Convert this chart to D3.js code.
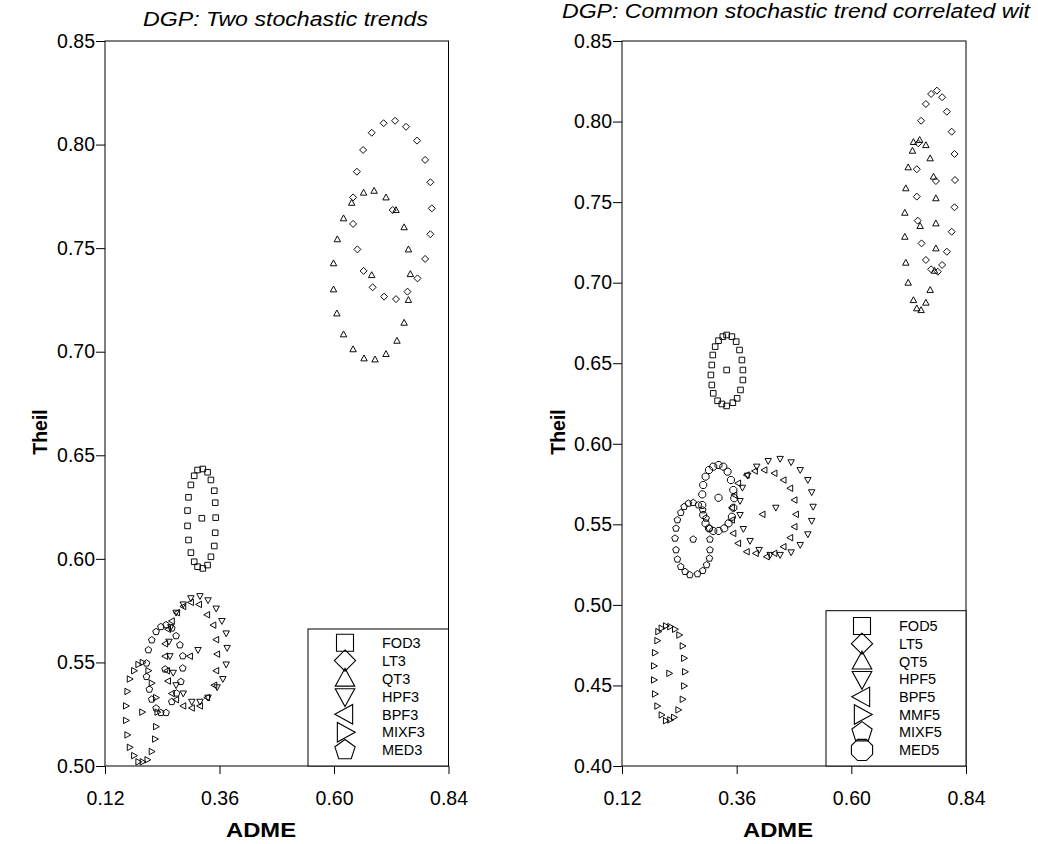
<!DOCTYPE html>
<html><head><meta charset="utf-8">
<script src="https://cdn.jsdelivr.net/npm/d3@7"></script>
<style>
body{margin:0;background:#fff;}
svg{display:block;font-family:"Liberation Sans",Arial,sans-serif;}
</style>
</head><body>
<svg id="c" width="1038" height="844"></svg>
<script>
// ---------- data ----------
const xTicks = [0.12, 0.36, 0.60, 0.84];
const yTicksLeft = [0.50, 0.55, 0.60, 0.65, 0.70, 0.75, 0.80, 0.85];
const yTicksRight = [0.40, 0.45, 0.50, 0.55, 0.60, 0.65, 0.70, 0.75, 0.80, 0.85];
const titleLeft = "DGP: Two stochastic trends";
const titleRight = "DGP: Common stochastic trend correlated wit";
const xTitle = "ADME";
const yTitle = "Theil";

const seriesLeft = ["FOD3","LT3","QT3","HPF3","BPF3","MIXF3","MED3"];
const seriesRight = ["FOD5","LT5","QT5","HPF5","BPF5","MMF5","MIXF5","MED5"];

// [ADME, Theil] pairs (ring points, last = centre)
const fod3 = [[0.325,0.6434],[0.314,0.6429],[0.335,0.6418],[0.307,0.6401],[0.342,0.6381],[0.300,0.6357],[0.349,0.6329],[0.295,0.6297],[0.351,0.6271],[0.293,0.6233],[0.352,0.6199],[0.293,0.6159],[0.351,0.6126],[0.295,0.6091],[0.349,0.6062],[0.300,0.6030],[0.342,0.6010],[0.307,0.5986],[0.335,0.5970],[0.314,0.5962],[0.325,0.5954],[0.323,0.6196]];
const lt3 = [[0.728,0.8115],[0.704,0.8103],[0.751,0.8086],[0.679,0.8057],[0.774,0.8019],[0.661,0.7974],[0.791,0.7926],[0.648,0.7869],[0.802,0.7818],[0.640,0.7745],[0.805,0.7692],[0.640,0.7617],[0.802,0.7567],[0.649,0.7494],[0.791,0.7448],[0.662,0.7390],[0.775,0.7354],[0.681,0.7311],[0.754,0.7290],[0.705,0.7266],[0.730,0.7254],[0.723,0.7684]];
const qt3 = [[0.662,0.7768],[0.684,0.7777],[0.709,0.7745],[0.637,0.7719],[0.730,0.7684],[0.620,0.7644],[0.747,0.7601],[0.607,0.7543],[0.756,0.7494],[0.599,0.7427],[0.760,0.7375],[0.599,0.7301],[0.756,0.7250],[0.606,0.7185],[0.747,0.7140],[0.620,0.7084],[0.732,0.7053],[0.640,0.7012],[0.663,0.6968],[0.686,0.6963],[0.709,0.6989],[0.679,0.7370]];
const hpf3 = [[0.284,0.578],[0.300,0.581],[0.319,0.582],[0.336,0.580],[0.353,0.576],[0.365,0.570],[0.374,0.564],[0.376,0.557],[0.374,0.549],[0.367,0.542],[0.355,0.538],[0.336,0.533],[0.319,0.531],[0.302,0.531],[0.284,0.535],[0.269,0.539],[0.263,0.545],[0.256,0.553],[0.254,0.560],[0.258,0.567],[0.269,0.574],[0.315,0.556]];
const bpf3 = [[0.317,0.578],[0.334,0.573],[0.347,0.568],[0.353,0.561],[0.355,0.554],[0.353,0.546],[0.349,0.539],[0.334,0.533],[0.319,0.529],[0.302,0.528],[0.284,0.529],[0.269,0.532],[0.260,0.535],[0.252,0.541],[0.250,0.546],[0.246,0.553],[0.246,0.559],[0.252,0.566],[0.260,0.570],[0.271,0.574],[0.284,0.577],[0.300,0.579],[0.298,0.553]];
const mixf3 = [[0.199,0.550],[0.190,0.549],[0.181,0.546],[0.172,0.542],[0.167,0.536],[0.164,0.529],[0.164,0.522],[0.167,0.515],[0.172,0.509],[0.181,0.505],[0.190,0.502],[0.199,0.502],[0.209,0.503],[0.218,0.507],[0.225,0.513],[0.227,0.519],[0.230,0.526],[0.227,0.533],[0.218,0.540],[0.211,0.546],[0.198,0.526]];
const med3 = [[0.237,0.5672],[0.248,0.5681],[0.260,0.5665],[0.269,0.5628],[0.277,0.5584],[0.283,0.5531],[0.283,0.5472],[0.279,0.5407],[0.270,0.5351],[0.260,0.5310],[0.248,0.5257],[0.237,0.5257],[0.227,0.5279],[0.218,0.5322],[0.213,0.5370],[0.207,0.5431],[0.207,0.5496],[0.211,0.5560],[0.218,0.5608],[0.227,0.5648],[0.246,0.5467]];

const fod5 = [[0.339,0.6675],[0.331,0.6665],[0.350,0.6665],[0.322,0.6640],[0.359,0.6634],[0.315,0.6603],[0.366,0.6582],[0.310,0.6551],[0.371,0.6520],[0.308,0.6489],[0.373,0.6458],[0.306,0.6427],[0.373,0.6396],[0.308,0.6365],[0.368,0.6334],[0.311,0.6313],[0.361,0.6282],[0.320,0.6267],[0.352,0.6255],[0.329,0.6247],[0.339,0.6235],[0.339,0.6458]];
const lt5 = [[0.779,0.8192],[0.767,0.8171],[0.790,0.8151],[0.756,0.8109],[0.800,0.8061],[0.746,0.8005],[0.810,0.7937],[0.740,0.7865],[0.816,0.7799],[0.737,0.7704],[0.817,0.7637],[0.737,0.7534],[0.816,0.7468],[0.739,0.7385],[0.810,0.7316],[0.747,0.7244],[0.800,0.7192],[0.756,0.7141],[0.790,0.7110],[0.767,0.7083],[0.781,0.7068],[0.777,0.7631]];
const qt5 = [[0.730,0.7873],[0.743,0.7886],[0.756,0.7854],[0.728,0.7819],[0.765,0.7772],[0.719,0.7716],[0.772,0.7658],[0.714,0.7586],[0.777,0.7524],[0.712,0.7434],[0.777,0.7368],[0.712,0.7285],[0.777,0.7213],[0.714,0.7124],[0.774,0.7074],[0.719,0.7000],[0.765,0.6955],[0.730,0.6892],[0.756,0.6876],[0.737,0.6841],[0.746,0.6830],[0.744,0.7352]];
const hpf5 = [[0.426,0.5893],[0.451,0.5906],[0.474,0.5885],[0.493,0.5837],[0.509,0.5775],[0.517,0.5699],[0.520,0.5609],[0.517,0.5521],[0.509,0.5438],[0.493,0.5372],[0.474,0.5326],[0.451,0.5310],[0.430,0.5310],[0.407,0.5341],[0.388,0.5397],[0.374,0.5471],[0.367,0.5558],[0.367,0.5645],[0.372,0.5727],[0.383,0.5802],[0.402,0.5858],[0.442,0.5603]];
const bpf5 = [[0.418,0.5837],[0.439,0.5817],[0.458,0.5775],[0.472,0.5724],[0.481,0.5651],[0.484,0.5562],[0.481,0.5485],[0.472,0.5417],[0.458,0.5361],[0.439,0.5320],[0.423,0.5299],[0.400,0.5320],[0.381,0.5330],[0.363,0.5382],[0.353,0.5444],[0.350,0.5527],[0.350,0.5603],[0.355,0.5682],[0.363,0.5755],[0.381,0.5806],[0.398,0.5831],[0.414,0.5562]];
const mmf5 = [[0.212,0.4869],[0.221,0.4865],[0.203,0.4855],[0.231,0.4849],[0.196,0.4834],[0.240,0.4813],[0.194,0.4778],[0.247,0.4745],[0.189,0.4703],[0.250,0.4669],[0.187,0.4621],[0.252,0.4585],[0.187,0.4534],[0.250,0.4497],[0.189,0.4447],[0.247,0.4414],[0.194,0.4372],[0.238,0.4348],[0.203,0.4317],[0.229,0.4302],[0.212,0.4281],[0.221,0.4286],[0.219,0.4575]];
const mixf5 = [[0.269,0.5634],[0.259,0.5630],[0.280,0.5620],[0.250,0.5609],[0.289,0.5589],[0.243,0.5572],[0.296,0.5537],[0.236,0.5527],[0.303,0.5475],[0.233,0.5475],[0.304,0.5407],[0.231,0.5413],[0.304,0.5341],[0.233,0.5341],[0.303,0.5289],[0.236,0.5283],[0.297,0.5248],[0.243,0.5237],[0.289,0.5212],[0.252,0.5206],[0.278,0.5192],[0.262,0.5186],[0.269,0.5407]];
const med5 = [[0.322,0.5868],[0.311,0.5858],[0.332,0.5858],[0.302,0.5837],[0.341,0.5827],[0.295,0.5796],[0.348,0.5775],[0.290,0.5744],[0.353,0.5713],[0.288,0.5686],[0.355,0.5662],[0.288,0.5620],[0.353,0.5603],[0.290,0.5558],[0.350,0.5547],[0.295,0.5506],[0.343,0.5506],[0.302,0.5475],[0.334,0.5475],[0.311,0.5459],[0.322,0.5459],[0.322,0.5665]];

// ---------- drawing ----------
const svg = d3.select("#c");

function markerPath(type, s) {
  const poly = pts => "M" + pts.map(p => p[0].toFixed(2) + "," + p[1].toFixed(2)).join("L") + "Z";
  const reg = (n, r, a0) => d3.range(n).map(i => {
    const a = a0 + i * 2 * Math.PI / n;
    return [r * Math.sin(a), -r * Math.cos(a)];
  });
  switch (type) {
    case "square": return poly([[-s,-s],[s,-s],[s,s],[-s,s]]);
    case "diamond": { const d = 1.25 * s; return poly([[0,-d],[d,0],[0,d],[-d,0]]); }
    case "up": return poly([[0,-1.2*s],[1.15*s,0.9*s],[-1.15*s,0.9*s]]);
    case "down": return poly([[0,1.2*s],[1.15*s,-0.9*s],[-1.15*s,-0.9*s]]);
    case "left": return poly([[-1.2*s,0],[0.9*s,-1.15*s],[0.9*s,1.15*s]]);
    case "right": return poly([[1.2*s,0],[-0.9*s,-1.15*s],[-0.9*s,1.15*s]]);
    case "pentagon": return poly(reg(5, 1.25 * s, 0));
    case "octagon": return poly(reg(8, 1.35 * s, Math.PI / 8));
  }
}

function panel(cfg) {
  const g = svg.append("g");
  const x = d3.scaleLinear().domain([0.12, 0.84]).range([cfg.left, cfg.right]);
  const y = d3.scaleLinear().domain([cfg.yTicks[0], 0.85]).range([766, 41]);

  const ya = g.append("g").attr("transform", `translate(${cfg.left},0)`)
    .call(d3.axisLeft(y).tickValues(cfg.yTicks).tickFormat(d3.format(".2f")).tickSize(9).tickPadding(1));
  const xa = g.append("g").attr("transform", `translate(0,766)`)
    .call(d3.axisBottom(x).tickValues(xTicks).tickFormat(d3.format(".2f")).tickSize(8).tickPadding(17));
  [ya, xa].forEach(a => {
    a.select(".domain").remove();
    a.selectAll("line").attr("stroke", "#000");
    a.selectAll("text").attr("fill", "#000").style("font-size", "19.5px")
      .style("font-family", '"Liberation Sans", Arial, sans-serif');
  });

  g.append("rect").attr("x", cfg.left).attr("y", 41)
    .attr("width", cfg.right - cfg.left).attr("height", 725)
    .attr("fill", "none").attr("stroke", "#000").attr("stroke-width", 1);

  cfg.series.forEach(s => {
    g.append("g").selectAll("path").data(s.data).join("path")
      .attr("transform", d => `translate(${x(d[0]).toFixed(2)},${y(d[1]).toFixed(2)})`)
      .attr("d", markerPath(s.shape, 2.8))
      .attr("fill", "none").attr("stroke", "#000").attr("stroke-width", 0.95);
  });

  const L = cfg.legend;
  g.append("rect").attr("x", L.x0).attr("y", L.y0)
    .attr("width", cfg.right - L.x0).attr("height", 766 - L.y0)
    .attr("fill", "#fff").attr("stroke", "#000").attr("stroke-width", 1);
  cfg.series.forEach((s, i) => {
    const yy = L.row0 + i * L.step;
    g.append("path").attr("transform", `translate(${L.sx},${yy})`)
      .attr("d", markerPath(s.shape, 8.5))
      .attr("fill", "none").attr("stroke", "#000").attr("stroke-width", 1.1);
    g.append("text").attr("x", L.tx).attr("y", yy).attr("dy", "0.36em")
      .style("font-size", "14.5px").attr("fill", "#000").text(s.name);
  });

  g.append("text").attr("x", cfg.title.x).attr("y", cfg.title.y)
    .attr("textLength", cfg.title.w).attr("lengthAdjust", "spacingAndGlyphs")
    .style("font-size", "20px").style("font-style", "italic").attr("fill", "#000")
    .text(cfg.title.text);
  g.append("text").attr("x", cfg.xt).attr("y", 837).attr("text-anchor", "middle")
    .attr("textLength", 70).attr("lengthAdjust", "spacingAndGlyphs")
    .style("font-size", "20px").style("font-weight", "bold").attr("fill", "#000")
    .text(xTitle);
  g.append("text").attr("transform", `translate(${cfg.yt},432) rotate(-90)`)
    .attr("text-anchor", "middle")
    .style("font-size", "19.5px").style("font-weight", "bold").attr("fill", "#000")
    .text(yTitle);
}

const shapesL = ["square","diamond","up","down","left","right","pentagon"];
const dataL = [fod3, lt3, qt3, hpf3, bpf3, mixf3, med3];
const shapesR = ["square","diamond","up","down","left","right","pentagon","octagon"];
const dataR = [fod5, lt5, qt5, hpf5, bpf5, mmf5, mixf5, med5];

panel({
  left: 105, right: 448.5, yTicks: yTicksLeft,
  series: seriesLeft.map((n, i) => ({name: n, shape: shapesL[i], data: dataL[i]})),
  legend: {x0: 308, y0: 629, row0: 642.7, step: 17.9, sx: 345, tx: 382},
  title: {x: 143, y: 26, w: 285, text: titleLeft},
  xt: 261, yt: 47
});
panel({
  left: 622, right: 966, yTicks: yTicksRight,
  series: seriesRight.map((n, i) => ({name: n, shape: shapesR[i], data: dataR[i]})),
  legend: {x0: 826, y0: 610.7, row0: 626, step: 17.71, sx: 862, tx: 899},
  title: {x: 562, y: 18, w: 468, text: titleRight},
  xt: 778, yt: 565
});
</script>
</body></html>
